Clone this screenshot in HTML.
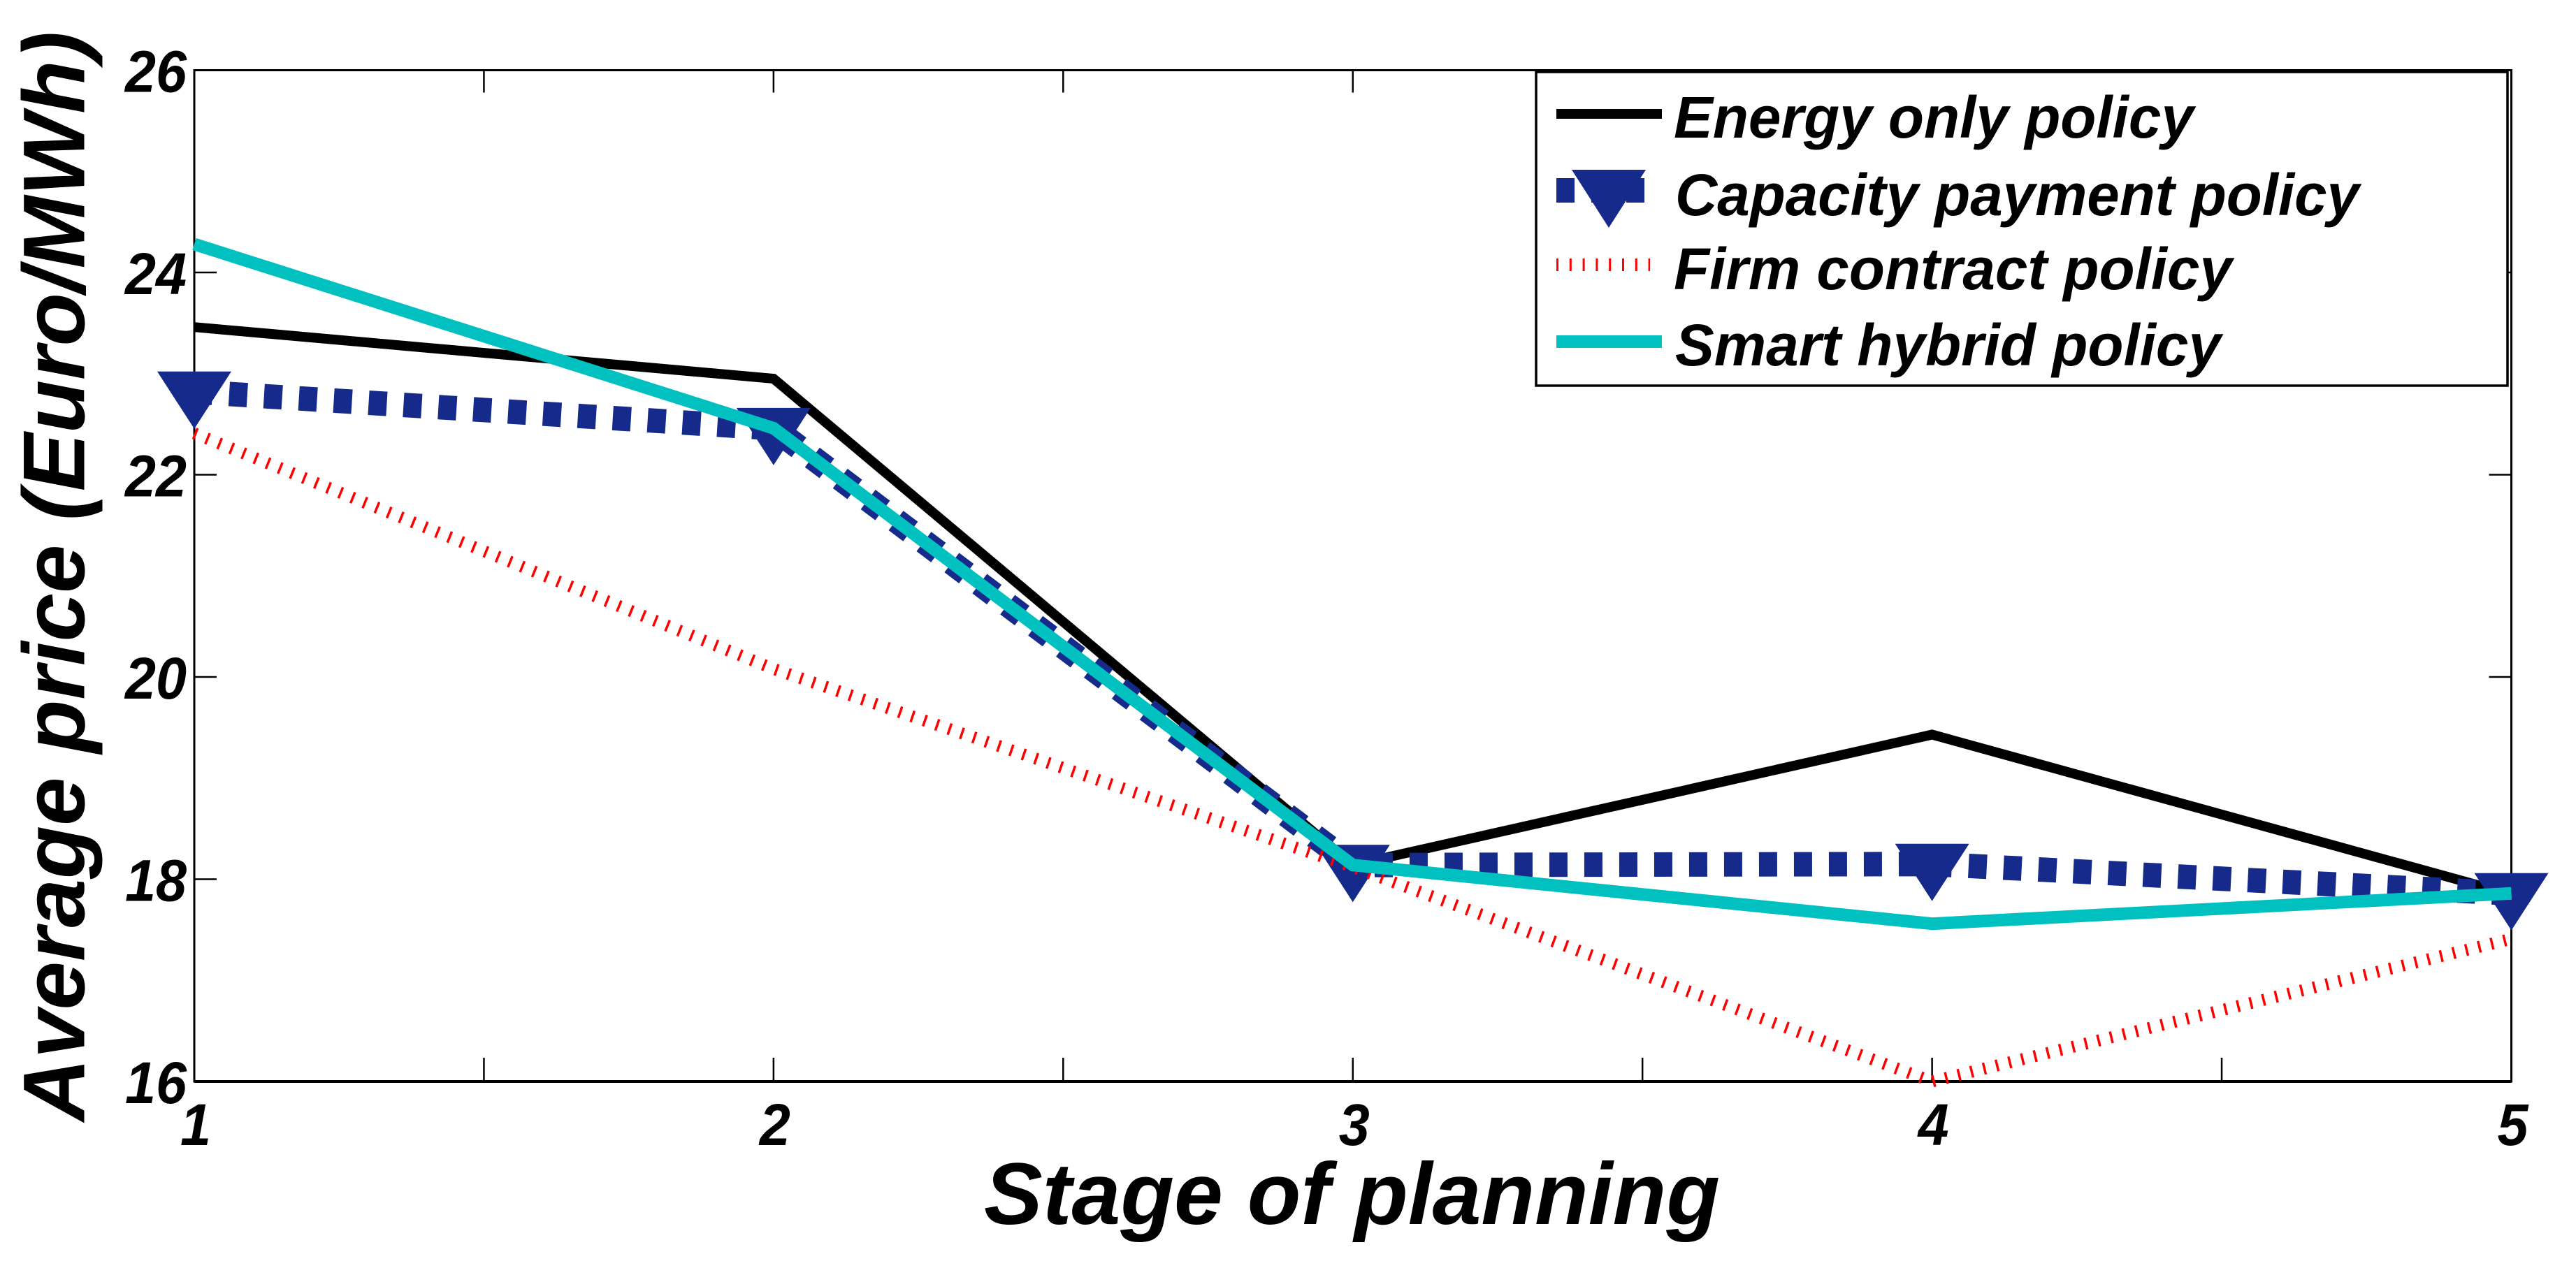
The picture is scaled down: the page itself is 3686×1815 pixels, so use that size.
<!DOCTYPE html>
<html lang="en">
<head>
<meta charset="utf-8">
<title>Average price by stage of planning</title>
<style>
  html, body { margin: 0; padding: 0; background: #ffffff; }
  svg { display: block; }
  text { font-family: "Liberation Sans", Arial, sans-serif; font-weight: bold; font-style: italic; fill: #000000; }
</style>
</head>
<body>
<svg id="chart" xmlns="http://www.w3.org/2000/svg" width="3686" height="1815" viewBox="0 0 3686 1815">
  <rect x="0" y="0" width="3686" height="1815" fill="#ffffff"/>
  <g id="axes"></g>
  <g id="series"></g>
  <text x="1408" y="1752" font-size="125" textLength="1053" lengthAdjust="spacingAndGlyphs">Stage of planning</text>
  <text transform="translate(120.5,1605) rotate(-90)" font-size="125" textLength="1560" lengthAdjust="spacingAndGlyphs">Average price (Euro/MWh)</text>
  <g>
    <rect x="2198" y="103" width="1390" height="449" fill="#ffffff" stroke="#000000" stroke-width="3.5"/>
    <g>
      <line x1="2227" y1="163" x2="2378" y2="163" stroke="#000000" stroke-width="14"/>
      <text x="2395" y="197" font-size="84" textLength="744" lengthAdjust="spacingAndGlyphs">Energy only policy</text>
    </g>
    <g>
      <line x1="2227" y1="272.5" x2="2353" y2="272.5" stroke="#152a8a" stroke-width="35" stroke-dasharray="26 24"/>
      <polygon points="2249,243 2355,243 2302,326" fill="#152a8a"/>
      <text x="2397" y="308" font-size="84" textLength="979" lengthAdjust="spacingAndGlyphs">Capacity payment policy</text>
    </g>
    <g>
      <line x1="2227" y1="379" x2="2361" y2="379" stroke="#ff0000" stroke-width="18" stroke-dasharray="3 15.8"/>
      <text x="2395" y="414" font-size="84" textLength="799" lengthAdjust="spacingAndGlyphs">Firm contract policy</text>
    </g>
    <g>
      <line x1="2227" y1="489" x2="2378" y2="489" stroke="#00c0c0" stroke-width="18"/>
      <text x="2397" y="523" font-size="84" textLength="781" lengthAdjust="spacingAndGlyphs">Smart hybrid policy</text>
    </g>
  </g>
</svg>
<script>
const stages = [1, 2, 3, 4, 5];
const energyOnly = [23.46, 22.95, 18.14, 19.43, 17.85];
const capacityPayment = [22.82, 22.46, 18.14, 18.15, 17.86];
const firmContract = [22.41, 20.08, 18.12, 16.0, 17.41];
const smartHybrid = [24.28, 22.46, 18.14, 17.56, 17.86];
const yTickValues = [16, 18, 20, 22, 24, 26];
const xTickValues = [1, 1.5, 2, 2.5, 3, 3.5, 4, 4.5, 5];
const xTickLabels = ['1', '2', '3', '4', '5'];

const SVG_NS = 'http://www.w3.org/2000/svg';
const plot = { left: 278, right: 3593.5, top: 100.5, bottom: 1548 };
const xScale = v => plot.left + (v - 1) / 4 * (plot.right - plot.left);
const yScale = v => plot.bottom - (v - 16) / 10 * (plot.bottom - plot.top);
const axes = document.getElementById('axes');
const seriesGroup = document.getElementById('series');

function make(tag, attrs, parent) {
  const el = document.createElementNS(SVG_NS, tag);
  Object.keys(attrs).forEach(k => el.setAttribute(k, attrs[k]));
  parent.appendChild(el);
  return el;
}

const frame = make('rect', { x: plot.left, y: plot.top, width: plot.right - plot.left, height: plot.bottom - plot.top, fill: 'none', stroke: '#000', 'stroke-width': 3 }, axes);



const bottomEdge = make('line', { x1: plot.left, y1: plot.bottom, x2: plot.right, y2: plot.bottom, stroke: '#000', 'stroke-width': 4 }, axes);



yTickValues.forEach(v => {
  const y = yScale(v);
  if (v !== 16 && v !== 26) {
    const left = make('line', { x1: plot.left, y1: y, x2: plot.left + 32, y2: y, stroke: '#000', 'stroke-width': 2.5 }, axes);
    
    
    const right = make('line', { x1: plot.right - 32, y1: y, x2: plot.right, y2: y, stroke: '#000', 'stroke-width': 2.5 }, axes);
    
    
  }
  const label = make('text', { x: 267, y: y + 31, 'font-size': 84, 'text-anchor': 'end', textLength: 88, lengthAdjust: 'spacingAndGlyphs' }, axes);
  
  
  label.textContent = String(v);
});

xTickValues.forEach(v => {
  const x = xScale(v);
  if (v !== 1 && v !== 5) {
    const bottom = make('line', { x1: x, y1: plot.bottom - 34, x2: x, y2: plot.bottom, stroke: '#000', 'stroke-width': 2.5 }, axes);
    
    
    const top = make('line', { x1: x, y1: plot.top, x2: x, y2: plot.top + 32, stroke: '#000', 'stroke-width': 2.5 }, axes);
    
    
  }
});

stages.forEach((v, i) => {
  const label = make('text', { x: xScale(v) + 2, y: 1639, 'font-size': 84, 'text-anchor': 'middle', textLength: 44, lengthAdjust: 'spacingAndGlyphs' }, axes);
  
  
  label.textContent = xTickLabels[i];
});

function linePoints(values) {
  return values.map((v, i) => xScale(stages[i]) + ',' + yScale(v)).join(' ');
}

const energyLine = make('polyline', { points: linePoints(energyOnly), fill: 'none', stroke: '#000000', 'stroke-width': 14, 'stroke-linejoin': 'miter' }, seriesGroup);



const capacityLine = make('polyline', { points: linePoints(capacityPayment), fill: 'none', stroke: '#152a8a', 'stroke-width': 35, 'stroke-dasharray': '26 24', 'stroke-linejoin': 'miter' }, seriesGroup);



capacityPayment.forEach((v, i) => {
  const x = xScale(stages[i]);
  const y = yScale(v);
  const marker = make('polygon', { points: (x - 53) + ',' + (y - 29) + ' ' + (x + 53) + ',' + (y - 29) + ' ' + x + ',' + (y + 53), fill: '#152a8a' }, seriesGroup);
  
  
});

const firmLine = make('polyline', { points: linePoints(firmContract), fill: 'none', stroke: '#ff0000', 'stroke-width': 17, 'stroke-dasharray': '3.5 15.2', 'stroke-linejoin': 'bevel' }, seriesGroup);



const smartLine = make('polyline', { points: linePoints(smartHybrid), fill: 'none', stroke: '#00c0c0', 'stroke-width': 18, 'stroke-linejoin': 'miter' }, seriesGroup);


</script>
</body>
</html>
